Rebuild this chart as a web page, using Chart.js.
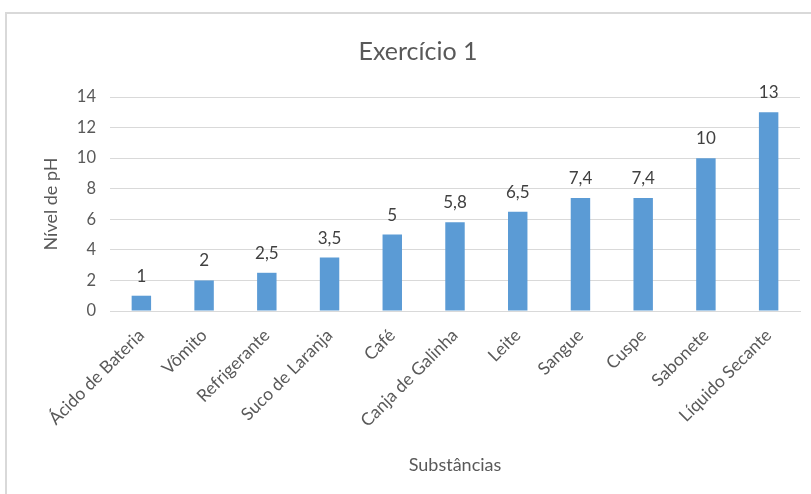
<!DOCTYPE html>
<html>
<head>
<meta charset="utf-8">
<script src="https://cdn.jsdelivr.net/npm/chart.js@4.4.1/dist/chart.umd.min.js"></script>
<style>
html,body{margin:0;padding:0;background:#fff;}
#wrap{width:811px;height:494px;position:relative;}
</style>
</head>
<body>
<div id="wrap"><canvas id="c" width="811" height="494"></canvas></div>
<script>
const categories = ["Ácido de Bateria","Vômito","Refrigerante","Suco de Laranja","Café","Canja de Galinha","Leite","Sangue","Cuspe","Sabonete","Líquido Secante"];
const phValues = [1, 2, 2.5, 3.5, 5, 5.8, 6.5, 7.4, 7.4, 10, 13];
const yTicks = [0, 2, 4, 6, 8, 10, 12, 14];

const FONT = "Lato, 'Open Sans', sans-serif";

const borderPlugin = {
  id: 'outerBorder',
  beforeDraw(chart) {
    const ctx = chart.ctx;
    ctx.save();
    ctx.strokeStyle = '#d9d9d9';
    ctx.lineWidth = 2;
    ctx.beginPath();
    ctx.moveTo(6, chart.height + 2);
    ctx.lineTo(6, 13);
    ctx.lineTo(chart.width + 2, 13);
    ctx.stroke();
    ctx.restore();
  }
};

const labelPlugin = {
  id: 'valueLabels',
  afterDatasetsDraw(chart) {
    const ctx = chart.ctx;
    const meta = chart.getDatasetMeta(0);
    ctx.save();
    ctx.font = "17px " + FONT;
    ctx.fillStyle = '#404040';
    ctx.textAlign = 'center';
    ctx.textBaseline = 'alphabetic';
    meta.data.forEach((bar, i) => {
      const txt = String(chart.data.datasets[0].data[i]).replace('.', ',');
      ctx.fillText(txt, bar.x, bar.y - 14);
    });
    ctx.restore();
  }
};

new Chart(document.getElementById('c'), {
  type: 'bar',
  data: {
    labels: categories,
    datasets: [{
      data: phValues,
      backgroundColor: '#5b9bd5',
      borderWidth: 0,
      barPercentage: 0.31,
      categoryPercentage: 1
    }]
  },
  options: {
    responsive: false,
    animation: false,
    devicePixelRatio: 1,
    layout: { padding: { left: 36, right: 11, top: 0, bottom: 14 } },
    plugins: {
      legend: { display: false },
      tooltip: { enabled: false },
      title: {
        display: true,
        text: 'Exercício 1',
        color: '#595959',
        font: { family: FONT, size: 25, weight: 'normal' },
        padding: { top: 37, bottom: 30 }
      }
    },
    scales: {
      y: {
        min: 0, max: 14,
        afterBuildTicks(scale) { scale.ticks = yTicks.map(v => ({ value: v })); },
        grid: { color: '#d9d9d9', lineWidth: 1, drawTicks: false },
        border: { display: false },
        ticks: { color: '#595959', font: { family: FONT, size: 16.5 }, padding: 14 },
        title: { display: true, text: 'Nível de pH', color: '#595959', font: { family: FONT, size: 18 }, padding: { top: 4, bottom: 4 } },
        afterFit(scale) { scale.width = 110 - 36; }
      },
      x: {
        grid: { display: false },
        border: { color: '#d9d9d9' },
        ticks: { color: '#595959', font: { family: FONT, size: 17.5 }, maxRotation: 45, minRotation: 45, autoSkip: false, padding: 6 },
        title: { display: true, text: 'Substâncias', color: '#595959', font: { family: FONT, size: 18 }, padding: { top: 4, bottom: 4 } },
        afterFit(scale) { scale.height = 494 - 311 - 14; }
      }
    }
  },
  plugins: [borderPlugin, labelPlugin]
});
</script>
</body>
</html>
